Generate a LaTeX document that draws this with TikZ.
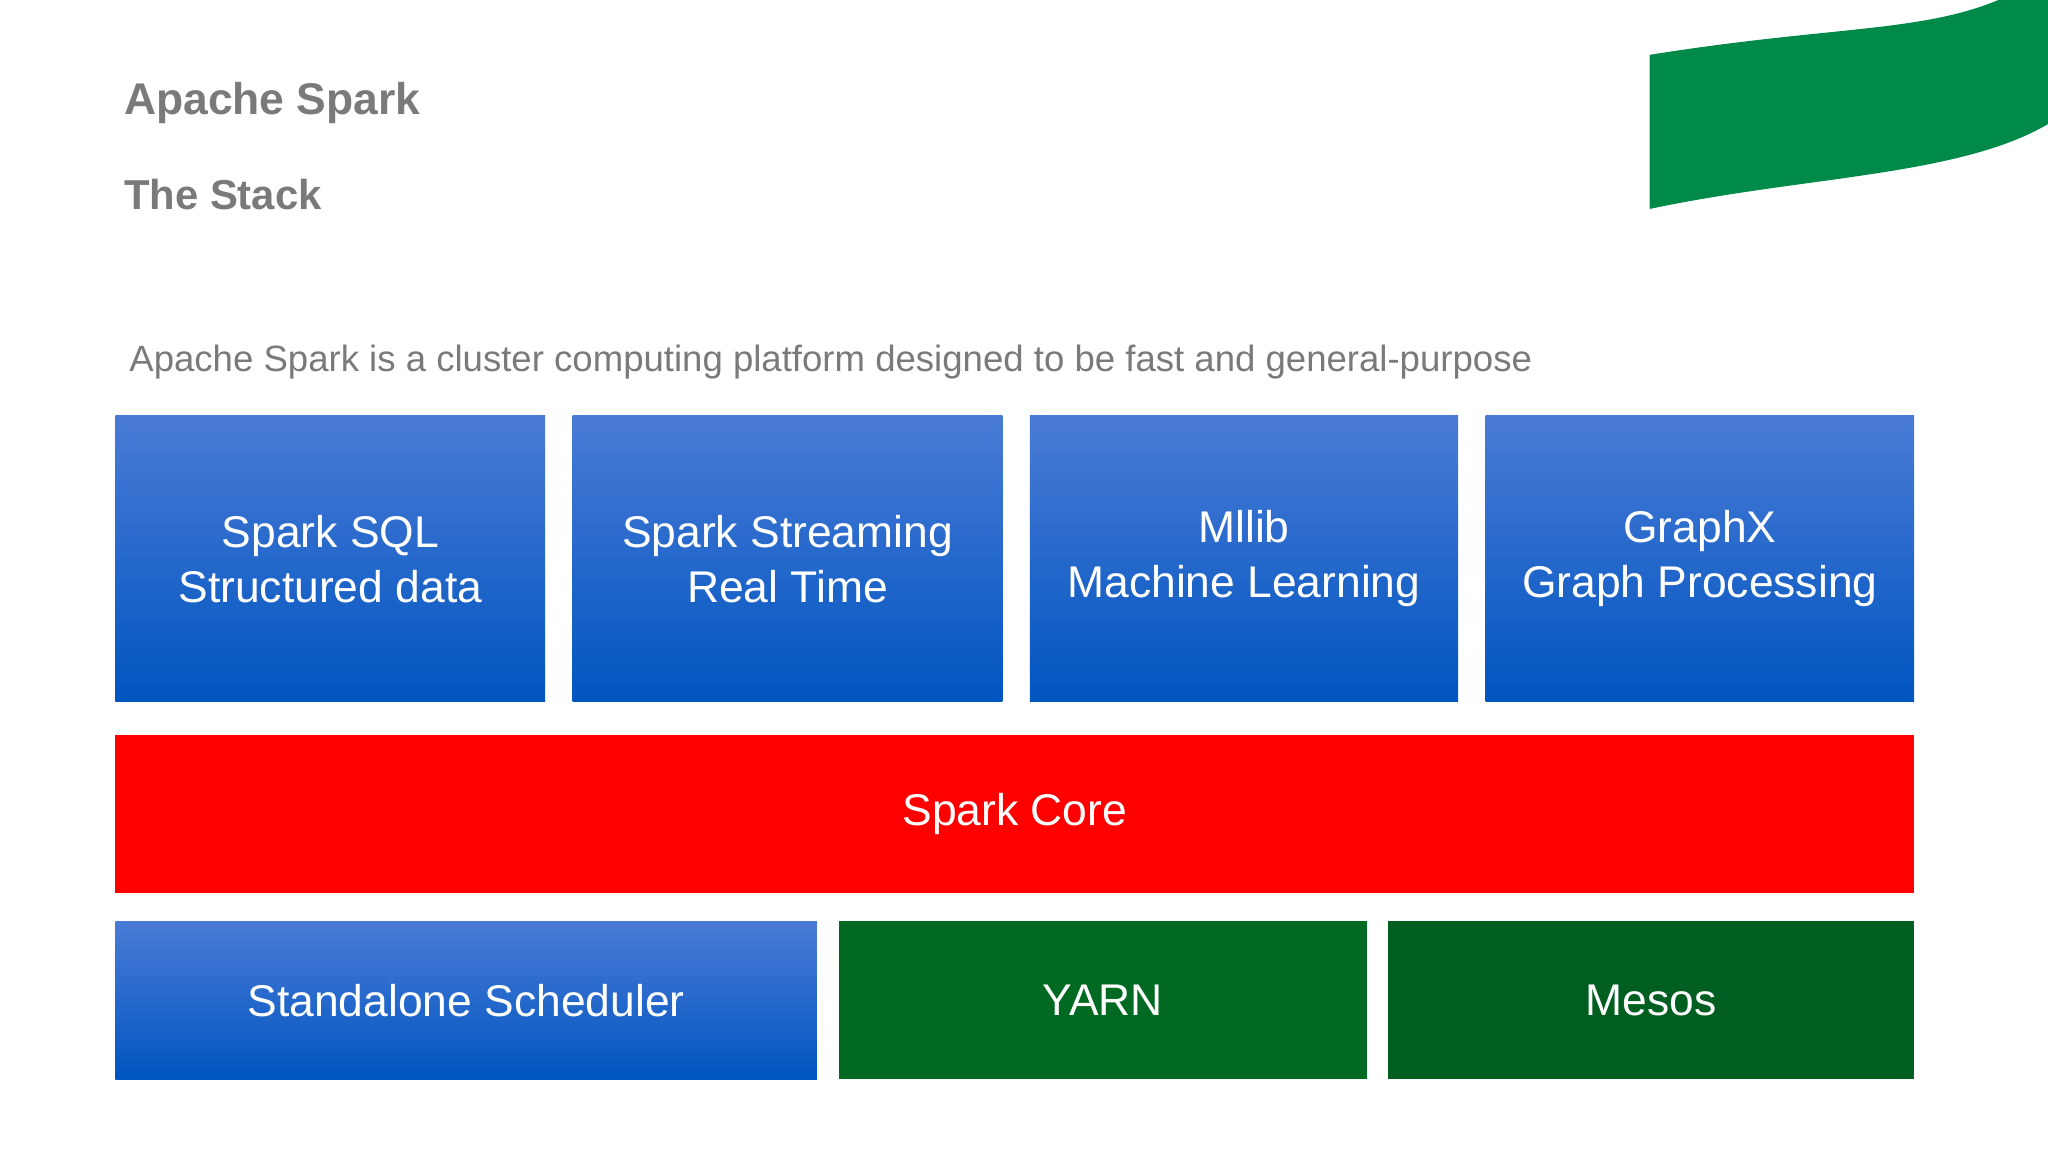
\documentclass[tikz,border=0pt]{standalone}
\usepackage{fontspec}
\setmainfont{Liberation Sans}
\begin{document}
\begin{tikzpicture}[x=0.5pt,y=-0.5pt,
  box/.style={draw=none,anchor=north west,inner sep=0pt,text=white,align=center,font=\fontsize{17}{21}\selectfont},
  blue/.style={box,top color=blue!10!cyan!10!blue!70!white!90!blue,bottom color=blue!70!black!50!cyan!60!blue},
]
\definecolor{btop}{HTML}{4A7BD6}\definecolor{bbot}{HTML}{0055C0}
\definecolor{gsw}{HTML}{008A4A}\definecolor{yarn}{HTML}{006A22}\definecolor{mes}{HTML}{005E20}
\definecolor{tgray}{HTML}{7A7A7A}
\tikzset{blue/.style={box,top color=btop,bottom color=bbot}}
\useasboundingbox[fill=white] (0,0) rectangle (1568,882);
\fill[gsw] (1263,42) .. controls (1400,20) and (1470,25) .. (1530,0) -- (1568,0) -- (1568,95) .. controls (1500,135) and (1380,135) .. (1263,160) -- cycle;
\node[anchor=west,text=tgray,font=\fontsize{17}{20}\selectfont\bfseries] (t) at (88,79) {Apache Spark};
\node[anchor=west,text=tgray,font=\fontsize{16}{20}\selectfont\bfseries] (s) at (88,149) {The Stack};
\node[anchor=west,text=tgray,font=\fontsize{14}{18}\selectfont] (d) at (92,277) {Apache Spark is a cluster computing platform designed to be fast and general-purpose};
\node[blue,minimum width=164.5pt,minimum height=109.5pt] (a) at (88,318) {Spark SQL\\Structured data};
\node[blue,minimum width=164.5pt,minimum height=109.5pt] (b) at (438,318) {Spark Streaming\\Real Time};
\node[blue,minimum width=164pt,minimum height=109.5pt] (c) at (788,318) {Mllib\\Machine Learning};
\node[blue,minimum width=164pt,minimum height=109.5pt] (e) at (1137,318) {GraphX\\Graph Processing};
\node[box,fill=red,minimum width=688.5pt,minimum height=60.5pt] (core) at (88,562) {Spark Core};
\node[blue,minimum width=268.5pt,minimum height=60.5pt] (sa) at (88,705) {Standalone Scheduler};
\node[box,fill=yarn,minimum width=202pt,minimum height=60.5pt] (y) at (642,705) {YARN};
\node[box,fill=mes,minimum width=201.5pt,minimum height=60.5pt] (m) at (1062,705) {Mesos};
\end{tikzpicture}
\end{document}
